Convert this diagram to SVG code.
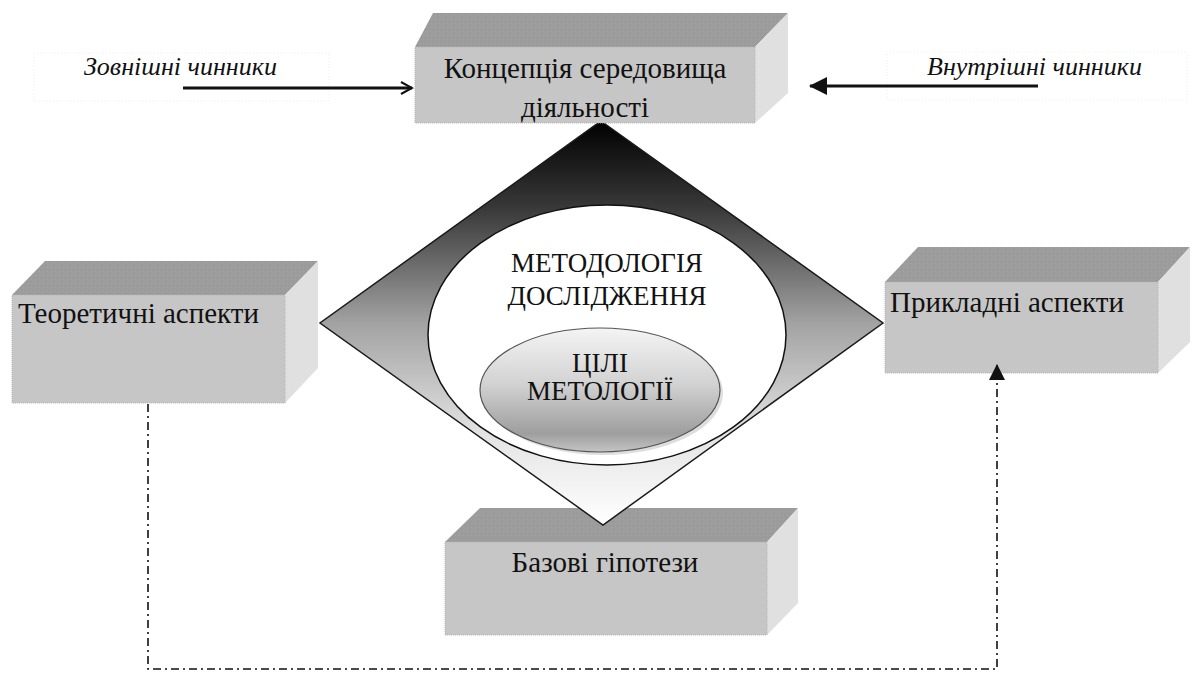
<svg xmlns="http://www.w3.org/2000/svg" width="1193" height="673" viewBox="0 0 1193 673">
  <style>
    .front { fill: #c6c6c6; stroke: #b4b4b4; stroke-width: 1; stroke-dasharray: 1 1; }
    .top { fill: #9c9c9c; }
    .side { fill: #e0e0e0; }
    .label { font-family: "Liberation Serif", "Times New Roman", serif; font-size: 29px; fill: #111; }
    .factor { font-family: "Liberation Serif", "Times New Roman", serif; font-size: 26px; font-style: italic; fill: #111; }
    .caps { font-family: "Liberation Serif", "Times New Roman", serif; font-size: 27px; fill: #111; text-anchor: middle; }
    .frame { fill: none; stroke: #eeeeee; stroke-width: 1; stroke-dasharray: 1 2; }
  </style>
  <defs>
    <pattern id="grain" width="4" height="4" patternUnits="userSpaceOnUse">
      <rect x="1" y="1" width="1" height="1" fill="#8a8a8a"/>
      <rect x="3" y="3" width="1" height="1" fill="#b0b0b0"/>
    </pattern>
    <linearGradient id="diamondFill" x1="0" y1="0" x2="0" y2="1">
      <stop offset="0" stop-color="#000000"/>
      <stop offset="0.22" stop-color="#3a3a3a"/>
      <stop offset="0.5" stop-color="#a2a2a2"/>
      <stop offset="0.78" stop-color="#e4e4e4"/>
      <stop offset="1" stop-color="#ffffff"/>
    </linearGradient>
    <linearGradient id="goalFill" x1="0" y1="0" x2="0" y2="1">
      <stop offset="0" stop-color="#f4f4f4"/>
      <stop offset="0.45" stop-color="#d2d2d2"/>
      <stop offset="0.85" stop-color="#9e9e9e"/>
      <stop offset="1" stop-color="#c4c4c4"/>
    </linearGradient>
    <marker id="openHead" markerWidth="14" markerHeight="14" refX="12" refY="7" orient="auto" markerUnits="userSpaceOnUse">
      <path d="M1,1 L12,7 L1,13" fill="none" stroke="#111" stroke-width="2"/>
    </marker>
    <marker id="solidHead" markerWidth="18" markerHeight="18" refX="17" refY="9" orient="auto" markerUnits="userSpaceOnUse">
      <path d="M0,0 L18,9 L0,18 Z" fill="#111"/>
    </marker>
    <marker id="smallHead" markerWidth="18" markerHeight="16" refX="16" refY="8" orient="auto" markerUnits="userSpaceOnUse">
      <path d="M0,0 L16,8 L0,16 Z" fill="#111"/>
    </marker>
  </defs>

  <rect width="1193" height="673" fill="#ffffff"/>

  <!-- faint frames around the factor captions -->
  <rect class="frame" x="34" y="53" width="295" height="48"/>
  <rect class="frame" x="887" y="52" width="300" height="48"/>

  <!-- left aspect box -->
  <g id="theory">
    <polygon class="top" points="12,295 45,261 318,261 285,295"/>
    <polygon fill="url(#grain)" opacity="0.35" points="12,295 45,261 318,261 285,295"/>
    <polygon class="side" points="285,295 318,261 318,368 285,403"/>
    <rect class="front" x="12" y="295" width="273" height="108"/>
    <text class="label" x="18" y="323">Теоретичні аспекти</text>
  </g>

  <!-- right aspect box -->
  <g id="applied">
    <polygon class="top" points="885,282 918,247 1190,247 1158,282"/>
    <polygon fill="url(#grain)" opacity="0.35" points="885,282 918,247 1190,247 1158,282"/>
    <polygon class="side" points="1158,282 1190,247 1190,342 1158,373"/>
    <rect class="front" x="885" y="282" width="273" height="91"/>
    <text class="label" x="890" y="312">Прикладні аспекти</text>
  </g>

  <!-- base hypotheses box -->
  <g id="hypotheses">
    <polygon class="top" points="445,542 480,508 798,508 767,542"/>
    <polygon fill="url(#grain)" opacity="0.35" points="445,542 480,508 798,508 767,542"/>
    <polygon class="side" points="767,542 798,508 798,603 767,635"/>
    <rect class="front" x="445" y="542" width="322" height="93"/>
    <text class="label" x="605" y="572" text-anchor="middle">Базові гіпотези</text>
  </g>

  <!-- central methodology diamond -->
  <g id="methodology">
    <polygon points="601,121 883,323 603,525 320,323" fill="url(#diamondFill)" stroke="#1a1a1a" stroke-width="1.5"/>
    <ellipse cx="607" cy="335" rx="179" ry="130" fill="#ffffff" stroke="#111" stroke-width="1.5"/>
    <text class="caps" x="607" y="272">МЕТОДОЛОГІЯ</text>
    <text class="caps" x="607" y="305">ДОСЛІДЖЕННЯ</text>
  </g>

  <g id="goals">
    <ellipse cx="603" cy="393" rx="120" ry="62" fill="#bdbdbd" opacity="0.5"/>
    <ellipse cx="600" cy="390" rx="120" ry="62" fill="url(#goalFill)" stroke="#555" stroke-width="1.2"/>
    <text class="caps" x="600" y="372" font-size="22">ЦІЛІ</text>
    <text class="caps" x="600" y="400" font-size="22">МЕТОЛОГІЇ</text>
  </g>

  <!-- environment concept box -->
  <g id="concept">
    <polygon class="top" points="415,47 433,13 788,13 755,47"/>
    <polygon fill="url(#grain)" opacity="0.35" points="415,47 433,13 788,13 755,47"/>
    <polygon class="side" points="755,47 788,13 788,93 755,123"/>
    <rect class="front" x="415" y="47" width="340" height="76"/>
    <text class="label" x="585" y="78" text-anchor="middle">Концепція середовища</text>
    <text class="label" x="585" y="117" text-anchor="middle">діяльності</text>
  </g>

  <!-- factor captions -->
  <g id="external">
    <text class="factor" x="84" y="75">Зовнішні чинники</text>
  </g>
  <g id="internal">
    <text class="factor" x="927" y="75">Внутрішні чинники</text>
  </g>

  <!-- connectors -->
  <g id="connectors" fill="none" stroke="#111">
    <line x1="183" y1="88" x2="412" y2="88" stroke-width="2.8" marker-end="url(#openHead)"/>
    <line x1="1038" y1="86" x2="810" y2="86" stroke-width="2.8" marker-end="url(#solidHead)"/>
    <path d="M148,404 V669 H997 V364" stroke-width="1.6" stroke-dasharray="8 4 2 4" marker-end="url(#smallHead)"/>
  </g>
</svg>
